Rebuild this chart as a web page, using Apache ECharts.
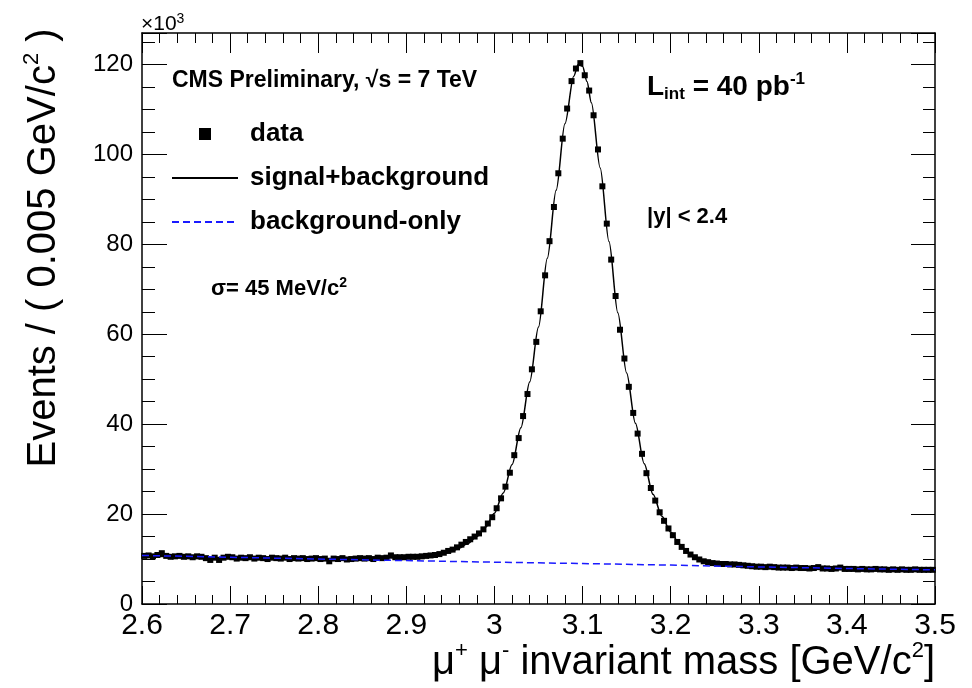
<!DOCTYPE html>
<html>
<head>
<meta charset="utf-8">
<script src="https://cdn.jsdelivr.net/npm/echarts@6.0.0/dist/echarts.min.js"></script>
<style>
  html, body { margin: 0; padding: 0; background: #fff; }
  #chart { width: 972px; height: 688px; }
</style>
</head>
<body>
<div id="chart"></div>
<script>
// dimuon mass histogram, 0.005 GeV/c^2 bins from 2.6 to 3.5, counts in 10^3
const binLow = 2.6;
const binWidth = 0.005;
const dataCounts = [
  10.7, 10.8, 10.6, 10.9, 11.3, 10.7, 10.5, 10.6, 10.7, 10.5,
  10.6, 10.4, 10.6, 10.5, 10.2, 9.8, 10.3, 9.8, 10.3, 10.5,
  10.4, 10.1, 10.3, 10.2, 10.4, 10.1, 10.3, 10.2, 10.0, 10.3,
  10.2, 10.1, 10.3, 10.0, 10.2, 10.1, 10.2, 10.0, 10.1, 10.2,
  10.0, 10.1, 9.5, 10.1, 10.0, 10.2, 9.9, 10.0, 10.1, 10.2,
  10.1, 10.2, 10.0, 10.3, 10.2, 10.3, 10.8, 10.4, 10.4, 10.4,
  10.5, 10.5, 10.5, 10.6, 10.7, 10.8, 10.9, 11.1, 11.4, 11.8,
  12.1, 12.6, 13.2, 13.8, 14.4, 15.0, 15.7, 16.6, 17.9, 19.3,
  21.3, 23.5, 26.1, 29.2, 33.1, 36.9, 41.8, 46.7, 52.2, 58.3,
  65.1, 73.1, 80.7, 88.3, 95.8, 103.5, 110.2, 116.3, 119.1, 120.3,
  117.6, 114.2, 108.7, 101.1, 92.9, 84.6, 76.6, 68.5, 61.0, 54.6,
  48.3, 42.5, 37.9, 33.4, 29.1, 25.8, 23.0, 20.4, 18.5, 16.8,
  15.3, 13.8, 12.7, 11.8, 11.0, 10.4, 9.9, 9.5, 9.3, 9.1,
  9.0, 8.9, 8.9, 8.8, 8.8, 8.7, 8.6, 8.5, 8.4, 8.3,
  8.3, 8.2, 8.3, 8.2, 8.1, 8.1, 8.1, 8.0, 8.1, 8.0,
  8.0, 7.9, 8.0, 8.2, 7.9, 7.9, 7.8, 7.9, 8.1, 7.8,
  7.8, 7.8, 7.7, 7.8, 7.7, 7.7, 7.8, 7.7, 7.7, 7.6,
  7.7, 7.6, 7.7, 7.6, 7.6, 7.7, 7.6, 7.6, 7.6, 7.6
];

// signal+background fit curve
const fitMass = [
  2.60, 2.65, 2.70, 2.75, 2.80, 2.85, 2.88, 2.90, 2.91, 2.92,
  2.93, 2.94, 2.95, 2.96, 2.97, 2.98, 2.99, 3.00, 3.01, 3.02,
  3.03, 3.04, 3.05, 3.06, 3.07, 3.08, 3.09, 3.095, 3.10, 3.105,
  3.11, 3.12, 3.13, 3.14, 3.15, 3.16, 3.17, 3.18, 3.19, 3.20,
  3.21, 3.22, 3.23, 3.24, 3.25, 3.26, 3.28, 3.30, 3.35, 3.40,
  3.45, 3.50
];
const fitCounts = [
  10.75, 10.5, 10.3, 10.15, 10.1, 10.15, 10.3, 10.4, 10.5, 10.55,
  10.7, 11.0, 11.6, 12.4, 13.5, 15.0, 17.1, 20.2, 24.7, 31.0,
  39.2, 49.4, 61.6, 76.9, 92.0, 106.8, 117.4, 120.0, 119.6, 116.2,
  111.5, 97.0, 80.6, 64.8, 51.4, 40.2, 31.2, 24.4, 19.5, 16.0,
  13.3, 11.4, 10.1, 9.4, 9.05, 8.85, 8.55, 8.3, 8.0, 7.85,
  7.7, 7.6
];

// background-only curve
const bkgMass = [2.6, 2.7, 2.8, 2.9, 3.0, 3.1, 3.2, 3.3, 3.4, 3.5];
const bkgCounts = [10.8, 10.4, 10.0, 9.65, 9.3, 9.0, 8.65, 8.25, 7.9, 7.6];

const fontFamily = '"Liberation Sans", Arial, Helvetica, sans-serif';
const black = '#000';
const blue = '#1a1aff';

const chart = echarts.init(document.getElementById('chart'), null, { renderer: 'canvas' });

const dataPoints = dataCounts.map((v, i) => [binLow + binWidth * (i + 0.5), v]);
const fitPoints = fitMass.map((m, i) => [m, fitCounts[i]]);
const bkgPoints = bkgMass.map((m, i) => [m, bkgCounts[i]]);

const hidden = { show: false };

const yAxisFor = (position, interval, tickLen, isMain) => ({
  type: 'value',
  position: position,
  min: 0,
  max: 127,
  interval: interval,
  splitLine: hidden,
  axisLine: isMain
    ? { show: true, onZero: false, lineStyle: { color: black, width: 1.5 } }
    : hidden,
  axisTick: { show: true, inside: true, length: tickLen, lineStyle: { color: black, width: 1 } },
  axisLabel: (isMain && position === 'left')
    ? {
        show: true, color: black, fontFamily: fontFamily, fontSize: 24, margin: 9,
        formatter: (v) => (v % 20 === 0 ? String(v) : '')
      }
    : hidden
});

const xAxisFor = (position, tickLen, minorLen) => ({
  type: 'value',
  position: position,
  min: 2.6,
  max: 3.5,
  interval: 0.1,
  splitLine: hidden,
  axisLine: { show: true, onZero: false, lineStyle: { color: black, width: 1.5 } },
  axisTick: { show: true, inside: true, length: tickLen, lineStyle: { color: black, width: 1 } },
  minorTick: { show: true, splitNumber: 5, length: minorLen, lineStyle: { color: black, width: 1 } },
  axisLabel: position === 'bottom'
    ? {
        show: true, color: black, fontFamily: fontFamily, fontSize: 30, margin: 7,
        formatter: (v) => String(Math.round(v * 10) / 10)
      }
    : hidden
});

const richSet = (size, supSize, weight) => ({
  m: { fontSize: size, fontFamily: fontFamily, fontWeight: weight, lineHeight: Math.round(size * 1.15), fill: black },
  sup: { fontSize: supSize, fontFamily: fontFamily, fontWeight: weight, lineHeight: supSize, verticalAlign: 'top', fill: black },
  sub: { fontSize: supSize, fontFamily: fontFamily, fontWeight: weight, lineHeight: 10, verticalAlign: 'bottom', fill: black }
});

const textEl = (x, y, text, rich, align, extra) => Object.assign({
  type: 'text',
  x: x,
  y: y,
  silent: true,
  style: {
    text: text,
    rich: rich,
    fill: black,
    align: align,
    textAlign: align,
    verticalAlign: 'middle',
    textVerticalAlign: 'middle'
  }
}, extra || {});

const option = {
  animation: false,
  backgroundColor: '#fff',
  grid: { left: 142, right: 37, top: 33, bottom: 84, containLabel: false },
  xAxis: [
    xAxisFor('bottom', 18, 9),
    xAxisFor('top', 20, 10)
  ],
  yAxis: [
    yAxisFor('left', 20, 25, true),
    yAxisFor('left', 5, 13, false),
    yAxisFor('right', 20, 24, true),
    yAxisFor('right', 5, 12, false)
  ],
  legend: {
    left: 171,
    top: 119,
    padding: 0,
    orient: 'vertical',
    itemWidth: 66,
    itemHeight: 12,
    itemGap: 14,
    selectedMode: false,
    symbolKeepAspect: true,
    textStyle: {
      color: black, fontFamily: fontFamily, fontSize: 26, fontWeight: 'bold',
      lineHeight: 30, padding: [0, 0, 0, 7]
    },
    data: [
      { name: 'data', icon: 'path://M0,0L10,0L10,10L0,10Z', itemStyle: { opacity: 1 } },
      { name: 'signal+background', itemStyle: { opacity: 0 } },
      { name: 'background-only', itemStyle: { opacity: 0 } }
    ]
  },
  graphic: [
    textEl(141, 24, '{m|×10}{sup|3}', richSet(21, 14, 'normal'), 'left'),
    textEl(172, 81, '{m|CMS Preliminary, √s = 7 TeV}', richSet(23, 15, 'bold'), 'left'),
    textEl(211, 289, '{m|σ= 45 MeV/c}{sup|2}', richSet(22, 14, 'bold'), 'left'),
    textEl(647, 87, '{m|L}{sub|int}{m| = 40 pb}{sup|-1}', richSet(28, 17, 'bold'), 'left'),
    textEl(647, 217, '{m||y| < 2.4}', richSet(22, 14, 'bold'), 'left'),
    textEl(935, 663, '{m|μ}{sup|+}{m| μ}{sup|-}{m| invariant mass [GeV/c}{sup|2}{m|]}',
      richSet(40, 22, 'normal'), 'right'),
    textEl(44, 248, '{m|Events / ( 0.005 GeV/c}{sup|2}{m| )}',
      richSet(40, 22, 'normal'), 'center', { rotation: Math.PI / 2 })
  ],
  series: [
    {
      name: 'data',
      type: 'scatter',
      xAxisIndex: 0,
      yAxisIndex: 0,
      symbol: 'rect',
      symbolSize: 6,
      itemStyle: { color: black, opacity: 1 },
      data: dataPoints,
      z: 2
    },
    {
      name: 'signal+background',
      type: 'line',
      xAxisIndex: 0,
      yAxisIndex: 0,
      symbol: 'none',
      smooth: 0.3,
      smoothMonotone: 'x',
      lineStyle: { color: black, width: 1.5 },
      itemStyle: { color: black },
      data: fitPoints,
      z: 3
    },
    {
      name: 'background-only',
      type: 'line',
      xAxisIndex: 0,
      yAxisIndex: 0,
      symbol: 'none',
      lineStyle: { color: blue, width: 1.5, type: [7, 4] },
      itemStyle: { color: blue },
      data: bkgPoints,
      z: 4
    }
  ]
};

chart.setOption(option);
</script>
</body>
</html>
